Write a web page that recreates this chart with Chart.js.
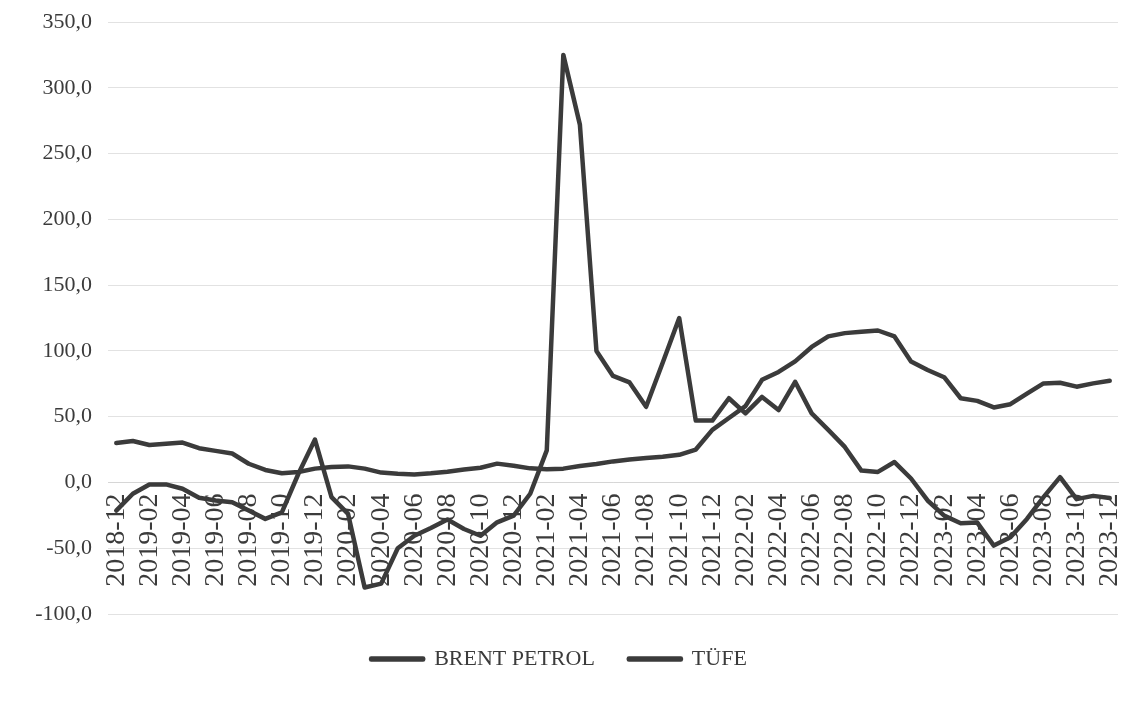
<!DOCTYPE html>
<html>
<head>
<meta charset="utf-8">
<script src="https://cdn.jsdelivr.net/npm/chart.js@4.4.0/dist/chart.umd.min.js"></script>
<style>
  html, body { margin: 0; padding: 0; background: #fff; }
  #wrap { width: 1147px; height: 706px; }
</style>
</head>
<body>
<div id="wrap"><canvas id="chart"></canvas></div>
<script>
const months = [
  '2018-12',
  '2019-01', '2019-02', '2019-03', '2019-04', '2019-05', '2019-06', '2019-07', '2019-08', '2019-09', '2019-10', '2019-11', '2019-12',
  '2020-01', '2020-02', '2020-03', '2020-04', '2020-05', '2020-06', '2020-07', '2020-08', '2020-09', '2020-10', '2020-11', '2020-12',
  '2021-01', '2021-02', '2021-03', '2021-04', '2021-05', '2021-06', '2021-07', '2021-08', '2021-09', '2021-10', '2021-11', '2021-12',
  '2022-01', '2022-02', '2022-03', '2022-04', '2022-05', '2022-06', '2022-07', '2022-08', '2022-09', '2022-10', '2022-11', '2022-12',
  '2023-01', '2023-02', '2023-03', '2023-04', '2023-05', '2023-06', '2023-07', '2023-08', '2023-09', '2023-10', '2023-11', '2023-12'
];

const brent = [
  -21.4,
  -8.6, -1.5, -1.5, -4.8, -11.7, -13.7, -15, -21.4, -27.7, -22.7, 6.6, 32.6,
  -11.2, -23.9, -79.9, -76.9, -50, -40.5, -34.6, -28.2, -35.4, -40.5, -30.3, -25.2,
  -8.6, 24.4, 325, 272, 100, 81, 76, 57.5, 91, 125, 47, 47,
  64, 52.5, 65, 55, 76.5, 52.5, 40, 27, 9, 8, 15.5, 3,
  -13.7, -25.2, -31, -30.5, -48, -41.7, -27.7, -11.2, 4, -12.7, -10.2, -11.9
];

const tufe = [
  30,
  31.5, 28.5, 29.5, 30.3, 26, 24, 22, 14.2, 9.5, 7, 8, 10.5,
  11.7, 12.2, 10.5, 7.5, 6.6, 6.1, 7, 8.2, 9.8, 11.2, 14.3, 12.7,
  10.7, 10, 10.5, 12.5, 14, 16, 17.5, 18.5, 19.5, 21, 25, 40,
  49, 58, 78, 84, 92, 103, 111, 113.5, 114.5, 115.5, 111, 92,
  85.5, 80, 64, 62, 57, 59.5, 67.5, 75.3, 75.8, 72.8, 75.3, 77.3
];

const yTicks = { min: -100, max: 350, step: 50 };

const ink = '#3b3b3b';
const serif = '"Liberation Serif", "Times New Roman", serif';

const chart = document.querySelector('#chart').getContext('2d');

new Chart(chart, {
    type: 'line',
    data: {
        labels: months,
        datasets: [
            {
                label: 'BRENT PETROL',
                data: brent,
                borderColor: ink,
                backgroundColor: ink,
                borderWidth: 4.5,
                pointRadius: 0,
                borderJoinStyle: 'round',
                borderCapStyle: 'round'
            },
            {
                label: 'TÜFE',
                data: tufe,
                borderColor: ink,
                backgroundColor: ink,
                borderWidth: 4.5,
                pointRadius: 0,
                borderJoinStyle: 'round',
                borderCapStyle: 'round'
            }
        ]
    },
    options: {
        responsive: true,
        maintainAspectRatio: false,
        animation: false,
        layout: { padding: { top: 22, right: 29, bottom: 26, left: 0 } },
        plugins: {
            tooltip: { enabled: false },
            legend: {
                position: 'bottom',
                labels: {
                    color: ink,
                    font: { family: serif, size: 22 },
                    boxWidth: 52,
                    boxHeight: 1,
                    padding: 34
                }
            }
        },
        scales: {
            x: {
                position: { y: 0 },
                offset: true,
                grid: { display: false },
                border: { display: true, color: '#d6d6d6', width: 1 },
                ticks: {
                    autoSkip: false,
                    minRotation: 90,
                    maxRotation: 90,
                    padding: 3,
                    color: ink,
                    font: { family: serif, size: 28 },
                    callback: function (value, index) {
                        return index % 2 === 0 ? months[index] : '';
                    }
                }
            },
            y: {
                min: yTicks.min,
                max: yTicks.max,
                afterFit: function (scale) { scale.width = 108; },
                grid: { color: '#e2e2e2', drawTicks: false },
                border: { display: false },
                ticks: {
                    stepSize: yTicks.step,
                    padding: 16,
                    color: ink,
                    font: { family: serif, size: 22, lineHeight: 0.5 },
                    callback: function (value) {
                        return value.toFixed(1).replace('.', ',');
                    }
                }
            }
        }
    }
})
</script>
</body>
</html>
